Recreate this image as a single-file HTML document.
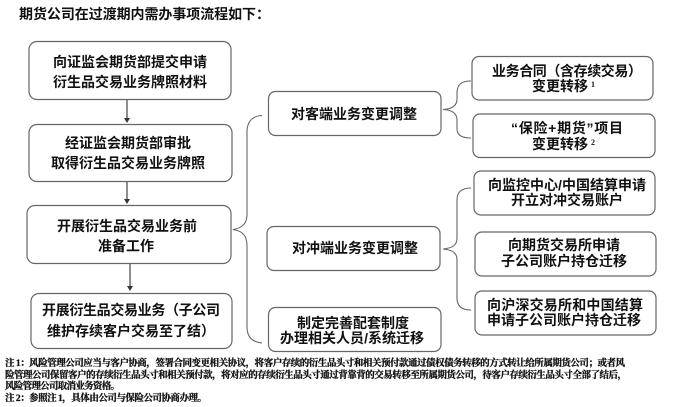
<!DOCTYPE html>
<html lang="zh">
<head>
<meta charset="utf-8">
<title>期货公司过渡期流程</title>
<style>
html,body{margin:0;padding:0;background:#fff;width:700px;height:407px;overflow:hidden}
svg{display:block}
.b{fill:#fff;stroke:#666;stroke-width:1.2}
.l{fill:none;stroke:#666;stroke-width:1.1}
.a{fill:none;stroke:#444;stroke-width:1.2}
.h{fill:#333}
text{font-family:"Liberation Sans","Noto Sans CJK SC",sans-serif;font-size:14px;font-weight:700;fill:#111}
.n{font-family:"Liberation Serif","Noto Serif CJK SC",serif;font-size:9.5px;font-weight:700;fill:#111;stroke:#111;stroke-width:.3}
.s{font-family:"Liberation Serif",serif;font-size:8px;font-weight:700}
</style>
</head>
<body>
<svg width="700" height="407" viewBox="0 0 700 407" xmlns="http://www.w3.org/2000/svg">
<text x="19" y="19" textLength="251" lengthAdjust="spacing">期货公司在过渡期内需办事项流程如下：</text>

<rect class="b" x="29" y="41.5" width="202" height="58" rx="8"/>
<rect class="b" x="29" y="124.5" width="203" height="57" rx="8"/>
<rect class="b" x="27" y="205.5" width="204" height="58" rx="8"/>
<rect class="b" x="31" y="293.5" width="201" height="55" rx="8"/>
<rect class="b" x="268.500" y="91.500" width="172.500" height="44" rx="7"/>
<rect class="b" x="267" y="226.500" width="173" height="44" rx="7"/>
<rect class="b" x="268.500" y="307.500" width="172.500" height="44" rx="7"/>
<rect class="b" x="472" y="56.500" width="181" height="43.500" rx="7"/>
<rect class="b" x="473" y="114" width="182" height="43.500" rx="7"/>
<rect class="b" x="474" y="171" width="181" height="44" rx="7"/>
<rect class="b" x="475" y="232" width="181" height="44" rx="7"/>
<rect class="b" x="475" y="291" width="181" height="44" rx="7"/>

<path class="a" d="M127 100V118"/><path class="h" d="M124 118h6l-3 5z"/>
<path class="a" d="M127 182V199"/><path class="h" d="M124 199h6l-3 5z"/>
<path class="a" d="M130 264V286"/><path class="h" d="M127 286h6l-3 5z"/>

<path class="l" d="M262 115.500C252 116 247 122 247 132V214C247 223 243 228 233 229.500C243 231 247 236 247 246V327C247 337 252 342 262 343"/>
<path class="l" d="M471 81C462 81 457 84 457 93V99C457 105 453 109 443 109.500C453 110 457 114 457 120V129C457 135 462 138 471 138"/>
<path class="l" d="M471 188C462 188 457 192 457 200V238C457 245 453 248 443 249C453 250 457 253 457 260V298C457 306 462 310 471 310"/>

<text x="53" y="67" textLength="154" lengthAdjust="spacing">向证监会期货部提交申请</text>
<text x="53" y="87" textLength="154" lengthAdjust="spacing">衍生品交易业务牌照材料</text>
<text x="65" y="148" textLength="126" lengthAdjust="spacing">经证监会期货部审批</text>
<text x="51" y="168" textLength="154" lengthAdjust="spacing">取得衍生品交易业务牌照</text>
<text x="57" y="231" textLength="140" lengthAdjust="spacing">开展衍生品交易业务前</text>
<text x="98" y="251" textLength="56" lengthAdjust="spacing">准备工作</text>
<text x="42" y="315" textLength="178" lengthAdjust="spacing">开展衍生品交易业务（子公司</text>
<text x="47" y="336" textLength="168" lengthAdjust="spacing">维护存续客户交易至了结）</text>

<text x="291" y="119" textLength="126" lengthAdjust="spacing">对客端业务变更调整</text>
<text x="292" y="253" textLength="126" lengthAdjust="spacing">对冲端业务变更调整</text>
<text x="297" y="328" textLength="112" lengthAdjust="spacing">制定完善配套制度</text>
<text x="280" y="343" textLength="144" lengthAdjust="spacing">办理相关人员/系统迁移</text>

<text x="492" y="76" textLength="150" lengthAdjust="spacing">业务合同（含存续交易）</text>
<text x="532" y="91" textLength="56" lengthAdjust="spacing">变更转移</text>
<text class="s" x="591" y="87">1</text>
<text x="511" y="133" textLength="112" lengthAdjust="spacing">“保险+期货”项目</text>
<text x="532" y="149" textLength="56" lengthAdjust="spacing">变更转移</text>
<text class="s" x="591" y="145">2</text>
<text x="488" y="190" textLength="158" lengthAdjust="spacing">向监控中心/中国结算申请</text>
<text x="511" y="205" textLength="112" lengthAdjust="spacing">开立对冲交易账户</text>
<text x="508" y="250" textLength="112" lengthAdjust="spacing">向期货交易所申请</text>
<text x="501" y="266" textLength="126" lengthAdjust="spacing">子公司账户持仓迁移</text>
<text x="487" y="310" textLength="156" lengthAdjust="spacing">向沪深交易所和中国结算</text>
<text x="487" y="325" textLength="154" lengthAdjust="spacing">申请子公司账户持仓迁移</text>

<text class="n" x="5" y="366" textLength="620" lengthAdjust="spacing">注 1：风险管理公司应当与客户协商，签署合同变更相关协议，将客户存续的衍生品头寸和相关预付款通过债权债务转移的方式转让给所属期货公司；或者风</text>
<text class="n" x="5" y="378" textLength="622" lengthAdjust="spacing">险管理公司保留客户的存续衍生品头寸和相关预付款，将对应的存续衍生品头寸通过背靠背的交易转移至所属期货公司，待客户存续衍生品头寸全部了结后，</text>
<text class="n" x="5" y="389" textLength="115" lengthAdjust="spacing">风险管理公司取消业务资格。</text>
<text class="n" x="5" y="401" textLength="202" lengthAdjust="spacing">注 2：参照注 1，具体由公司与保险公司协商办理。</text>
</svg>
</body>
</html>
